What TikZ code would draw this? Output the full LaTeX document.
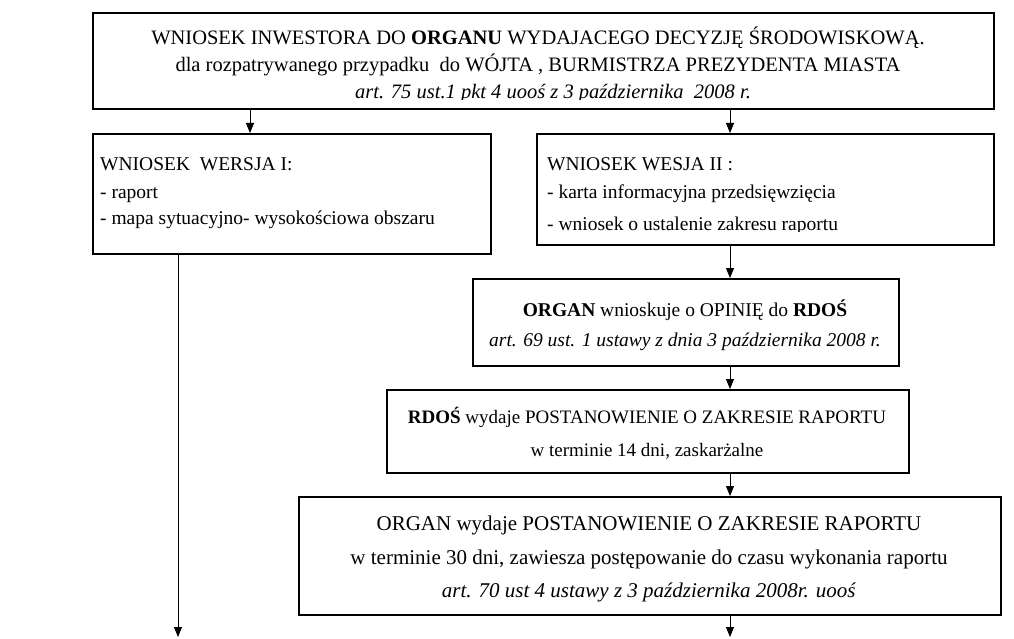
\documentclass[tikz,border=0pt]{standalone}
\usepackage{fontspec}
\setmainfont{Liberation Serif}
\usetikzlibrary{arrows.meta}
\usetikzlibrary{calc}

\begin{document}
\begin{tikzpicture}[x=1pt, y=-1pt,
  box/.style={draw, line width=1.8pt, rectangle, inner sep=0pt, anchor=north west},
  ln/.style={inner sep=0pt, anchor=base, font=\fontsize{#1}{27}\selectfont},
  ln/.default=19.5,
  lnl/.style={ln, anchor=base west},
  arr/.style={line width=.9pt, -{Triangle[width=8pt,length=10pt]}}]
\useasboundingbox (0,0) rectangle (1014,639);
% boxes
\node[box, minimum width=901pt, minimum height=96pt] (wniosek) at (92,12) {};
\node[box, minimum width=398pt, minimum height=120pt] (wersja1) at (92,133) {};
\node[box, minimum width=457pt, minimum height=111pt] (wersja2) at (536,133) {};
\node[box, minimum width=426pt, minimum height=87pt] (opinia) at (472,278) {};
\node[box, minimum width=522pt, minimum height=83pt] (rdos) at (386,389) {};
\node[box, minimum width=702pt, minimum height=118pt] (organ) at (298,496) {};
% texts (last lines cut off by the box, as in the original)
\begin{scope}
\clip (92,12) rectangle (993,100);
\node[ln=20.5] (w1) at (538,45) {WNIOSEK INWESTORA DO \textbf{ORGANU} WYDAJACEGO DECYZJĘ ŚRODOWISKOWĄ.};
\node[ln=20.5] (w2) at (538,72) {dla rozpatrywanego przypadku\ \ do WÓJTA , BURMISTRZA PREZYDENTA MIASTA};
\node[ln=20.5] (w3) at (538,99) {\hspace*{30pt}\textit{art. 75 ust.1 pkt 4 uooś z 3 października\ \ 2008 r.}};
\end{scope}
\node[lnl] (a1) at (100,171) {WNIOSEK\ \ WERSJA I:};
\node[lnl] (a2) at (100,198) {- raport};
\node[lnl] (a3) at (100,225) {- mapa sytuacyjno- wysokościowa obszaru};
\begin{scope}
\clip (536,133) rectangle (993,231);
\node[lnl] (b1) at (547,171) {WNIOSEK WESJA II :};
\node[lnl] (b2) at (547,198) {- karta informacyjna przedsięwzięcia};
\node[lnl] (b3) at (547,230) {- wniosek o ustalenie zakresu raportu};
\end{scope}
\node[ln] (o1) at (685,316) {\textbf{ORGAN} wnioskuje o OPINIĘ do \textbf{RDOŚ}};
\node[ln] (o2) at (685,346) {\textit{art. 69 ust. 1 ustawy z dnia 3 października 2008 r.}};
\node[ln=19] (r1) at (647,423) {\textbf{RDOŚ} wydaje POSTANOWIENIE O ZAKRESIE RAPORTU};
\node[ln=19] (r2) at (647,456) {w terminie 14 dni, zaskarżalne};
\node[ln=21] (g1) at (649,530) {ORGAN wydaje POSTANOWIENIE O ZAKRESIE RAPORTU};
\node[ln=21] (g2) at (649,564) {w terminie 30 dni, zawiesza postępowanie do czasu wykonania raportu};
\node[ln=21] (g3) at (649,597) {\textit{art. 70 ust 4 ustawy z 3 października 2008r. uooś}};
% connectors
\coordinate (xl) at (250,0);
\coordinate (xr) at (730,0);
\coordinate (endL) at (178,637);
\coordinate (endR) at (730,637);
\draw[arr] (wniosek.south -| xl) -- (wersja1.north -| xl);
\draw[arr] (wniosek.south -| xr) -- (wersja2.north -| xr);
\draw[arr] (wersja2.south -| xr) -- (opinia.north -| xr);
\draw[arr] (opinia.south -| xr) -- (rdos.north -| xr);
\draw[arr] (rdos.south -| xr) -- (organ.north -| xr);
\draw[arr] (wersja1.south -| endL) -- (endL);
\draw[arr] (organ.south -| endR) -- (endR);
\end{tikzpicture}
\end{document}
